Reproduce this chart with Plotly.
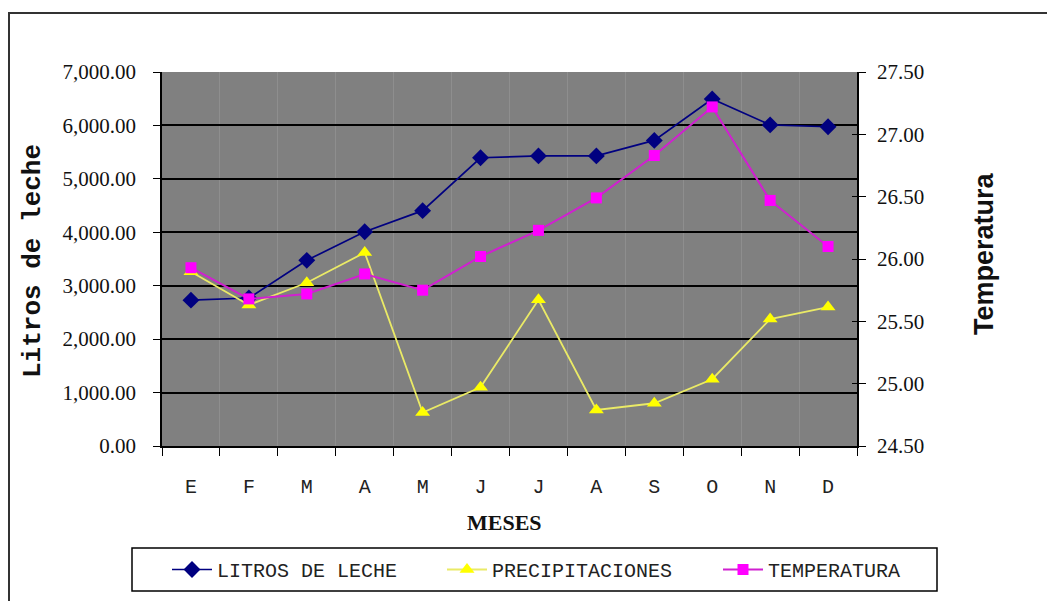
import plotly.graph_objects as go

# Monthly data
meses = ["E", "F", "M", "A", "M ", "J", "J ", "A ", "S", "O", "N", "D"]
mes_labels = ["E", "F", "M", "A", "M", "J", "J", "A", "S", "O", "N", "D"]
litros = [2730, 2770, 3475, 4010, 4405, 5395, 5430, 5430, 5720, 6495, 6010, 5975]
precipitaciones = [3260, 2640, 3055, 3620, 625, 1100, 2735, 675, 800, 1250, 2375, 2600]
temperatura = [25.93, 25.68, 25.72, 25.88, 25.75, 26.02, 26.23, 26.49, 26.83, 27.22, 26.47, 26.10]

left_ticks = [0, 1000, 2000, 3000, 4000, 5000, 6000, 7000]
right_ticks = [24.5, 25.0, 25.5, 26.0, 26.5, 27.0, 27.5]

# Plot-area geometry in pixels (for paper-coordinate helpers)
W, H = 1047, 601
PL, PR, PT, PB = 162, 857, 72, 446


def px(x):
    return (x - PL) / (PR - PL)


def py(y):
    return (PB - y) / (PB - PT)


mono = "Liberation Mono, Courier New, monospace"
serif = "Liberation Serif, Times New Roman, serif"
sans = "Liberation Sans, Arial, sans-serif"

fig = go.Figure()

fig.add_trace(go.Scatter(
    x=meses, y=litros, name="LITROS DE LECHE", mode="lines+markers",
    legend="legend",
    line=dict(color="#000080", width=1.7),
    marker=dict(symbol="diamond", size=13, color="#000080"),
))
fig.add_trace(go.Scatter(
    x=meses, y=precipitaciones, name="PRECIPITACIONES", mode="lines+markers",
    legend="legend2",
    line=dict(color="#eaea66", width=1.8),
    marker=dict(symbol="triangle-up", size=13, color="#ffff00"),
))
fig.add_trace(go.Scatter(
    x=meses, y=temperatura, name="TEMPERATURA", mode="lines+markers",
    yaxis="y2", legend="legend3",
    line=dict(color="#d020d0", width=2),
    marker=dict(symbol="square", size=11, color="#ff00ff"),
))
# Inner half of the crossing ticks on the right axis
fig.add_trace(go.Scatter(
    x=[None], y=[None], yaxis="y3", showlegend=False, hoverinfo="skip",
))

legend_common = dict(
    orientation="h",
    xanchor="left",
    y=py(569.5), yanchor="middle",
    font=dict(family=mono, size=20, color="#222"),
    bgcolor="rgba(0,0,0,0)", borderwidth=0,
    itemwidth=40,
)

fig.update_layout(
    width=W, height=H,
    margin=dict(l=PL, r=W - PR, t=PT, b=H - PB),
    paper_bgcolor="white",
    plot_bgcolor="#808080",
    showlegend=True,
    xaxis=dict(
        type="category",
        categoryorder="array", categoryarray=meses,
        tickvals=meses, ticktext=mes_labels,
        tickson="boundaries",
        range=[-0.5, 11.5],
        showline=True, linecolor="black", linewidth=1.5,
        ticks="outside", ticklen=8, tickcolor="black", tickwidth=1.2,
        showgrid=True, gridcolor="#8e8e8e", gridwidth=1,
        tickfont=dict(family=mono, size=20, color="#222"),
        ticklabelstandoff=21,
        zeroline=False,
    ),
    yaxis=dict(
        range=[0, 7000], tickvals=left_ticks, tickformat=",.2f",
        showline=True, linecolor="black", linewidth=1.5,
        ticks="outside", ticklen=7, tickcolor="black", tickwidth=1.2,
        showgrid=True, gridcolor="black", gridwidth=1.6,
        tickfont=dict(family=serif, size=21, color="#111"),
        ticklabelstandoff=13,
        zeroline=False,
    ),
    yaxis2=dict(
        range=[24.5, 27.5], tickvals=right_ticks, tickformat=".2f",
        overlaying="y", side="right",
        showline=True, linecolor="black", linewidth=1.5,
        ticks="outside", ticklen=7, tickcolor="black", tickwidth=1.2,
        showgrid=False, zeroline=False,
        tickfont=dict(family=serif, size=21, color="#111"),
        ticklabelstandoff=7,
    ),
    yaxis3=dict(
        range=[24.5, 27.5], tickvals=right_ticks,
        overlaying="y", side="right",
        showline=False, showticklabels=False,
        ticks="inside", ticklen=5, tickcolor="black", tickwidth=1.2,
        showgrid=False, zeroline=False,
    ),
    legend=dict(legend_common, x=px(167)),
    legend2=dict(legend_common, x=px(442)),
    legend3=dict(legend_common, x=px(718)),
    annotations=[
        dict(text="<b>Litros de leche</b>", textangle=-90,
             xref="paper", yref="paper", x=px(33), y=py(261),
             xanchor="center", yanchor="middle",
             showarrow=False, font=dict(family=mono, size=26, color="#111")),
        dict(text="<b>Temperatura</b>", textangle=-90,
             xref="paper", yref="paper", x=px(984), y=py(254),
             xanchor="center", yanchor="middle",
             showarrow=False, font=dict(family=sans, size=27, color="#111")),
        dict(text="<b>MESES</b>",
             xref="paper", yref="paper", x=px(504), y=py(522),
             xanchor="center", yanchor="middle",
             showarrow=False, font=dict(family=serif, size=22, color="#111")),
    ],
    shapes=[
        # outer chart frame
        dict(type="rect", xref="paper", yref="paper",
             x0=px(9), x1=px(1070), y0=py(630), y1=py(13),
             line=dict(color="#333", width=2), layer="below"),
        # legend frame
        dict(type="rect", xref="paper", yref="paper",
             x0=px(132), x1=px(937), y0=py(591), y1=py(548),
             line=dict(color="black", width=1.5), layer="above"),
    ],
)

fig.write_html("out.html")
